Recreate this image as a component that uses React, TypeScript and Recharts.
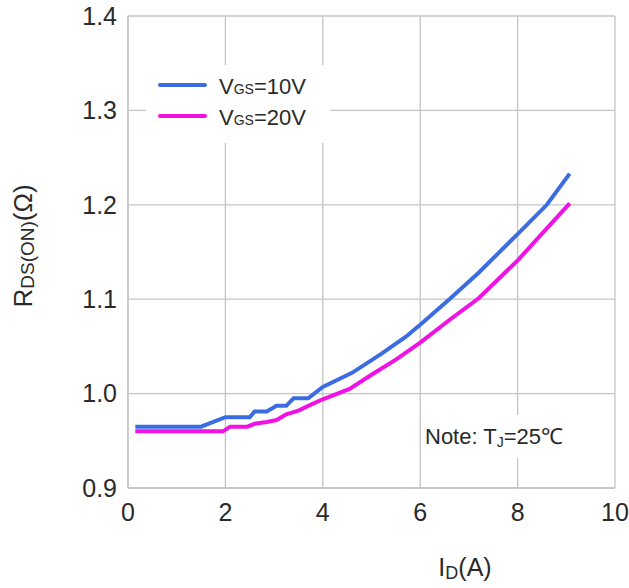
import React from 'react';
import { LineChart, Line, XAxis, YAxis, CartesianGrid, Legend } from 'recharts';

// Rds(on) vs Id
const id10 = [0.15, 1.5, 2.0, 2.5, 2.6, 2.85, 3.05, 3.25, 3.4, 3.7, 4.0, 4.6, 5.2, 5.7, 6.0, 6.6, 7.2, 8.0, 8.6, 9.07];
const rds10 = [0.965, 0.965, 0.975, 0.975, 0.981, 0.981, 0.987, 0.987, 0.995, 0.995, 1.007, 1.022, 1.042, 1.06, 1.073, 1.1, 1.128, 1.169, 1.2, 1.233];

const id20 = [0.15, 1.95, 2.1, 2.45, 2.6, 2.85, 3.05, 3.25, 3.5, 3.7, 4.0, 4.55, 5.0, 5.5, 6.0, 6.6, 7.2, 8.0, 8.6, 9.07];
const rds20 = [0.96, 0.96, 0.965, 0.965, 0.968, 0.97, 0.972, 0.978, 0.982, 0.987, 0.994, 1.005, 1.02, 1.036, 1.054, 1.078, 1.101, 1.141, 1.175, 1.2015];

const xTicks = [0, 2, 4, 6, 8, 10];
const yTicks = [0.9, 1.0, 1.1, 1.2, 1.3, 1.4];

const series = [
  { name: '10V', color: '#3c6ce2', data: id10.map((x, i) => ({ x, r: rds10[i] })) },
  { name: '20V', color: '#f012e4', data: id20.map((x, i) => ({ x, r: rds20[i] })) },
];

const FONT = '"Liberation Sans", Arial, Helvetica, sans-serif';
const GRID = '#c4c4c4';
const INK = '#2a2a2a';

const LegendBox = () => (
  <div style={{ background: '#fff', width: 184, height: 78, paddingTop: 4, boxSizing: 'border-box', fontFamily: FONT }}>
    {series.map((s) => (
      <div key={s.name} style={{ display: 'flex', alignItems: 'center', height: 31 }}>
        <svg width={61} height={8} style={{ marginLeft: 12 }}>
          <line x1={2} y1={4} x2={47} y2={4} stroke={s.color} strokeWidth={4} strokeLinecap="round" />
        </svg>
        <span style={{ fontSize: 22, color: INK, paddingTop: 4, lineHeight: 1 }}>
          V<span style={{ fontSize: 14 }}>GS</span>={s.name}
        </span>
      </div>
    ))}
  </div>
);

const YTitle = (props: any) => {
  const vb = props.viewBox;
  const x = vb.x + 32;
  const y = vb.y + vb.height / 2 - 6;
  return (
    <text x={x} y={y} transform={`rotate(-90, ${x}, ${y})`} textAnchor="middle" fill={INK} fontFamily={FONT} fontSize={26}>
      <tspan>R</tspan>
      <tspan fontSize={19} dy={2}>DS(ON)</tspan>
      <tspan dy={-2}>(Ω)</tspan>
    </text>
  );
};

const XTitle = (props: any) => {
  const vb = props.viewBox;
  const x = vb.x + 337;
  const y = vb.y + 88;
  return (
    <text x={x} y={y} textAnchor="middle" fill={INK} fontFamily={FONT} fontSize={25}>
      <tspan>I</tspan>
      <tspan fontSize={18} dy={3}>D</tspan>
      <tspan dy={-3}>(A)</tspan>
    </text>
  );
};

export default function App() {
  return (
    <div style={{ position: 'absolute', left: 0, top: 0, width: 629, height: 588, background: '#fff' }}>
      <LineChart width={629} height={588} margin={{ top: 16, right: 14, bottom: 0, left: 0 }}>
        <CartesianGrid stroke={GRID} strokeWidth={1.3} />
        <XAxis
          type="number"
          dataKey="x"
          domain={[0, 10]}
          ticks={xTicks}
          height={100}
          tickLine={false}
          tickSize={0}
          tickMargin={15}
          axisLine={{ stroke: GRID, strokeWidth: 1.3 }}
          tick={{ fontSize: 25, fill: INK, fontFamily: FONT }}
          label={{ content: XTitle }}
        />
        <YAxis
          type="number"
          domain={[0.9, 1.4]}
          ticks={yTicks}
          width={128}
          tickLine={false}
          tickSize={0}
          tickMargin={11}
          axisLine={{ stroke: GRID, strokeWidth: 1.3 }}
          tick={{ fontSize: 25, fill: INK, fontFamily: FONT }}
          tickFormatter={(v: number) => v.toFixed(1)}
          label={{ content: YTitle }}
        />
        <Legend
          layout="horizontal"
          verticalAlign="middle"
          align="center"
          content={LegendBox}
          wrapperStyle={{ left: 146, top: 65, width: 184, height: 78 }}
        />
        {series.map((s) => (
          <Line
            key={s.name}
            data={s.data}
            dataKey="r"
            name={s.name}
            type="linear"
            stroke={s.color}
            strokeWidth={4}
            dot={false}
            isAnimationActive={false}
          />
        ))}
      </LineChart>
      <div
        style={{
          position: 'absolute',
          left: 424,
          top: 415,
          height: 43,
          lineHeight: '43px',
          padding: '0 3px 0 1px',
          background: '#fff',
          fontFamily: FONT,
          fontSize: 22,
          color: INK,
          whiteSpace: 'nowrap',
        }}
      >
        Note: T<span style={{ fontSize: 14, position: 'relative', top: 3 }}>J</span>=25℃
      </div>
    </div>
  );
}
